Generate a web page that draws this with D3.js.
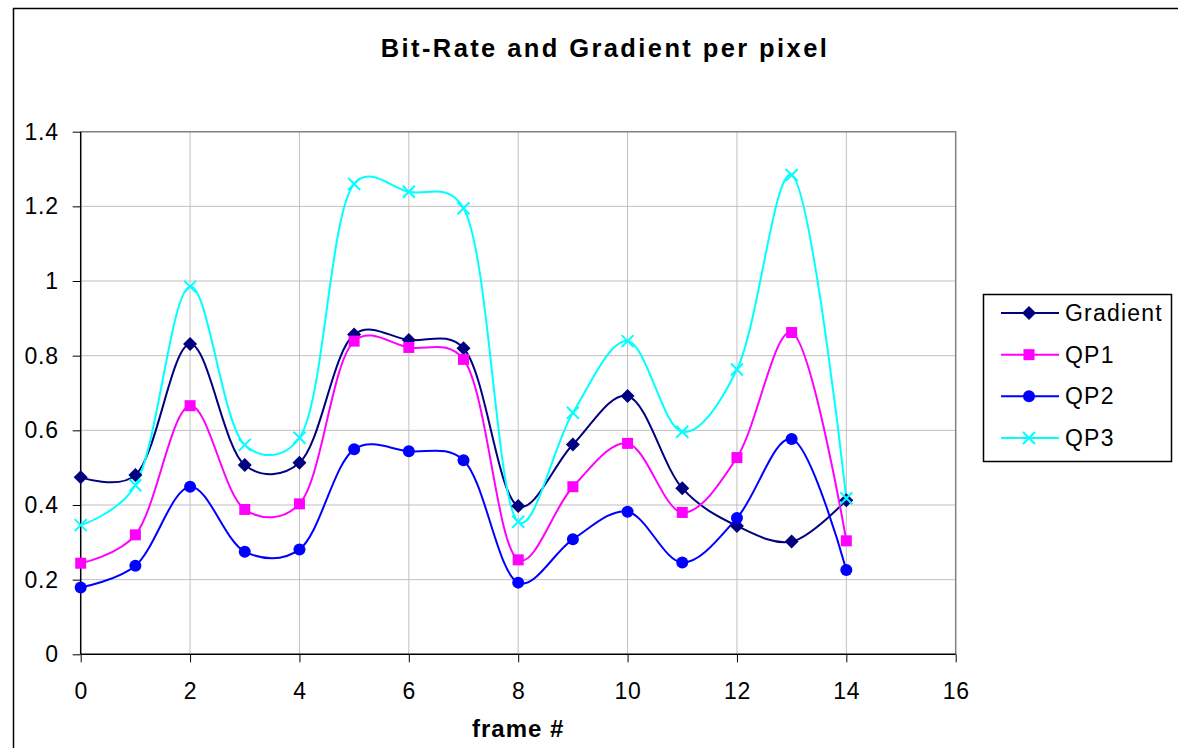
<!DOCTYPE html>
<html>
<head>
<meta charset="utf-8">
<script src="https://cdn.jsdelivr.net/npm/d3@7"></script>
<style>
  html, body { margin: 0; padding: 0; background: #fff; }
  text { font-family: "Liberation Sans", Arial, sans-serif; }
</style>
</head>
<body>
<div id="chart"></div>
<script>
// data
const frames = [0, 1, 2, 3, 4, 5, 6, 7, 8, 9, 10, 11, 12, 13, 14];
const gradient = [0.474, 0.480, 0.831, 0.507, 0.513, 0.857, 0.842, 0.820, 0.397, 0.562, 0.692, 0.445, 0.344, 0.302, 0.413];
const qp1 = [0.244, 0.320, 0.666, 0.388, 0.403, 0.839, 0.822, 0.790, 0.253, 0.449, 0.565, 0.380, 0.527, 0.862, 0.304];
const qp2 = [0.179, 0.237, 0.449, 0.275, 0.281, 0.549, 0.544, 0.520, 0.192, 0.308, 0.382, 0.246, 0.365, 0.577, 0.226];
const qp3 = [0.346, 0.453, 0.985, 0.561, 0.580, 1.260, 1.239, 1.195, 0.355, 0.647, 0.839, 0.596, 0.763, 1.284, 0.418];
const seriesNames = ["Gradient", "QP1", "QP2", "QP3"];
const xTicks = [0, 2, 4, 6, 8, 10, 12, 14, 16];
const yTicks = [0, 0.2, 0.4, 0.6, 0.8, 1, 1.2, 1.4];

const W = 1178, H = 748;
const plot = { left: 80.7, right: 955.7, top: 131.7, bottom: 654.3 };

const series = [
  { name: seriesNames[0], values: gradient, color: "#000080", marker: "diamond" },
  { name: seriesNames[1], values: qp1, color: "#ff00ff", marker: "square" },
  { name: seriesNames[2], values: qp2, color: "#0000ff", marker: "circle" },
  { name: seriesNames[3], values: qp3, color: "#00ffff", marker: "x" }
];

const svg = d3.select("#chart").append("svg")
  .attr("width", W).attr("height", H);

svg.append("rect").attr("width", W).attr("height", H).attr("fill", "#fff");
// outer chart border (runs off the picture on the right / bottom)
svg.append("rect")
  .attr("x", 13.5).attr("y", 8.5)
  .attr("width", W + 20).attr("height", H + 20)
  .attr("fill", "none").attr("stroke", "#000").attr("stroke-width", 1.5);

const x = d3.scaleLinear().domain([0, 16]).range([plot.left, plot.right]);
const y = d3.scaleLinear().domain([0, 1.4]).range([plot.bottom, plot.top]);

// grid
svg.append("g").selectAll("line").data(xTicks.slice(1, -1)).join("line")
  .attr("x1", d => x(d)).attr("x2", d => x(d))
  .attr("y1", plot.top).attr("y2", plot.bottom)
  .attr("stroke", "#c0c0c0").attr("stroke-width", 1);
svg.append("g").selectAll("line").data(yTicks.slice(1, -1)).join("line")
  .attr("x1", plot.left).attr("x2", plot.right)
  .attr("y1", d => y(d)).attr("y2", d => y(d))
  .attr("stroke", "#c0c0c0").attr("stroke-width", 1);

// top + right frame of plot area
svg.append("path")
  .attr("d", `M${plot.left},${plot.top}H${plot.right}V${plot.bottom}`)
  .attr("fill", "none").attr("stroke", "#808080").attr("stroke-width", 1.5);

// axes
const yAxis = svg.append("g")
  .attr("transform", `translate(${plot.left},0)`)
  .call(d3.axisLeft(y).tickValues(yTicks).tickSize(8).tickPadding(14).tickFormat(d3.format("")));
const xAxis = svg.append("g")
  .attr("transform", `translate(0,${plot.bottom})`)
  .call(d3.axisBottom(x).tickValues(xTicks).tickSize(8).tickPadding(20));

[yAxis, xAxis].forEach(g => {
  g.select(".domain").attr("stroke", "#000").attr("stroke-width", 1.5);
  g.selectAll(".tick line").attr("stroke", "#000").attr("stroke-width", 1);
  g.selectAll(".tick text")
    .attr("fill", "#000")
    .style("font-size", "23px")
    .style("letter-spacing", "0.7px")
    .style("font-family", "'Liberation Sans', Arial, sans-serif");
});
xAxis.select(".domain").attr("d", `M${plot.left},0H${plot.right}`);
yAxis.select(".domain").attr("d", `M0,${plot.bottom}V${plot.top}`);

// marker shapes
function markerPath(type) {
  const p = d3.path();
  if (type === "diamond") {
    p.moveTo(0, -7); p.lineTo(7, 0); p.lineTo(0, 7); p.lineTo(-7, 0); p.closePath();
  } else if (type === "square") {
    p.rect(-5.5, -5.5, 11, 11);
  } else if (type === "circle") {
    p.arc(0, 0, 6, 0, 2 * Math.PI);
  } else {
    p.moveTo(-6, -6); p.lineTo(6, 6); p.moveTo(6, -6); p.lineTo(-6, 6);
  }
  return p.toString();
}

function drawMarker(g, s) {
  const m = g.append("path").attr("d", markerPath(s.marker));
  if (s.marker === "x") {
    m.attr("fill", "none").attr("stroke", s.color).attr("stroke-width", 2);
  } else {
    m.attr("fill", s.color);
  }
}

// smoothed lines like Excel's "smoothed line" option
const line = d3.line()
  .x((d, i) => x(frames[i]))
  .y(d => y(d))
  .curve(d3.curveCatmullRom.alpha(0.3));

const lines = svg.append("g");
series.forEach(s => {
  lines.append("path")
    .attr("d", line(s.values))
    .attr("fill", "none")
    .attr("stroke", s.color)
    .attr("stroke-width", 2);
});
series.forEach(s => {
  s.values.forEach((v, i) => {
    const g = lines.append("g").attr("transform", `translate(${x(frames[i])},${y(v)})`);
    drawMarker(g, s);
  });
});

// title and axis label
svg.append("text")
  .attr("x", 605).attr("y", 57)
  .attr("text-anchor", "middle")
  .style("font-size", "25.5px").style("font-weight", "bold")
  .style("letter-spacing", "2.4px")
  .text("Bit-Rate and Gradient per pixel");

svg.append("text")
  .attr("x", (plot.left + plot.right) / 2).attr("y", 737)
  .attr("text-anchor", "middle")
  .style("font-size", "24px").style("font-weight", "bold")
  .style("letter-spacing", "1px")
  .text("frame #");

// legend
const legend = svg.append("g");
legend.append("rect")
  .attr("x", 983.5).attr("y", 294.5).attr("width", 188).attr("height", 167)
  .attr("fill", "#fff").attr("stroke", "#000").attr("stroke-width", 1.5);
const legendY = d3.scalePoint().domain(seriesNames).range([313, 438]);
series.forEach(s => {
  const ly = legendY(s.name);
  legend.append("line")
    .attr("x1", 1001).attr("x2", 1059).attr("y1", ly).attr("y2", ly)
    .attr("stroke", s.color).attr("stroke-width", 2);
  drawMarker(legend.append("g").attr("transform", `translate(1029,${ly})`), s);
  legend.append("text")
    .attr("x", 1065).attr("y", ly + 8)
    .style("font-size", "23px").style("letter-spacing", "1.2px")
    .text(s.name);
});
</script>
</body>
</html>
